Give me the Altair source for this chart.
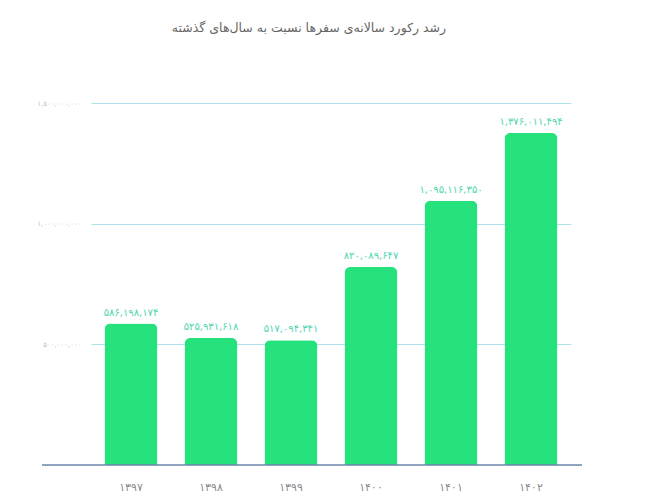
import altair as alt
import pandas as pd

years = ["1397", "1398", "1399", "1400", "1401", "1402"]
trips = [586198174, 525931618, 517094341, 820089647, 1095116350, 1376011494]
tick_values = [500000000, 1000000000, 1500000000]
title_text = "رشد رکورد سالانه‌ی سفرها نسبت به سال‌های گذشته"

FA = str.maketrans("0123456789", "۰۱۲۳۴۵۶۷۸۹")

def fa(s):
    return str(s).translate(FA)

df = pd.DataFrame({
    "year": [fa(y) for y in years],
    "trips": trips,
    "label": [fa(f"{v:,}") for v in trips],
})

tick_expr = " : ".join(
    [f"datum.value == {v} ? '{fa(f'{v:,}')}'" for v in tick_values]
) + " : ''"

x_enc = alt.X(
    "year:N",
    sort=None,
    scale=alt.Scale(paddingInner=0.3375, paddingOuter=0.16875),
    axis=alt.Axis(
        title=None, domain=False, ticks=False, labelAngle=0,
        labelPadding=16, labelFontSize=11, labelColor="#8a8a8a",
        labelFont="DejaVu Sans",
    ),
)
y_enc = alt.Y(
    "trips:Q",
    scale=alt.Scale(domain=[0, 1500000000], nice=False),
    axis=alt.Axis(
        title=None, values=tick_values, domain=False, ticks=False,
        grid=True, gridColor="#aee3ee", gridWidth=1,
        labelExpr=tick_expr, labelFontSize=7, labelColor="#c4c4c4",
        labelPadding=10, labelFont="DejaVu Sans",
    ),
)

bars = alt.Chart(df).mark_bar(
    color="#25e27c", size=53, cornerRadiusTopLeft=6, cornerRadiusTopRight=6
).encode(x=x_enc, y=y_enc)

labels = alt.Chart(df).mark_text(
    dy=-11, fontSize=10, color="#4fd6b0", font="DejaVu Sans"
).encode(x=alt.X("year:N", sort=None), y="trips:Q", text="label:N")

baseline = alt.Chart(pd.DataFrame({"v": [0]})).mark_rule(
    color="#6b86ad", strokeWidth=1.5
).encode(y="v:Q", x=alt.value(-49), x2=alt.value(491))

chart = alt.layer(bars, labels, baseline).properties(
    width=480,
    height=362,
    autosize=alt.AutoSizeParams(type="none"),
    padding={"left": 83, "top": 95, "right": 69, "bottom": 27},
    title=alt.TitleParams(
        title_text, fontSize=12.5, color="#666666", font="DejaVu Sans",
        fontWeight="normal", anchor="middle", offset=65, dx=-22,
    ),
).configure_view(stroke=None)

chart.save("out.html", embed_options={"renderer": "svg", "actions": False})
